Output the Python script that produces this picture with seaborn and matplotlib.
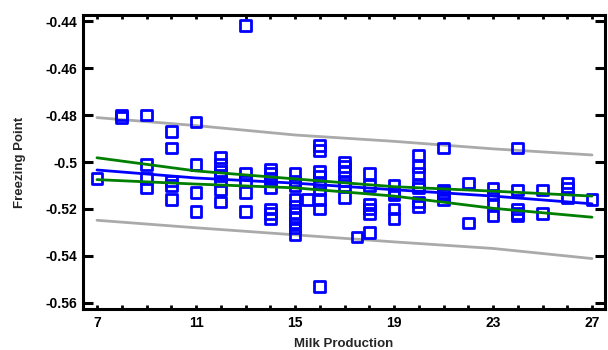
import matplotlib
matplotlib.use("Agg")
import matplotlib.pyplot as plt
import seaborn as sns
import pandas as pd

# ---- data ----
milk = ([7] + [8] * 2 + [9] * 4 + [10] * 5 + [11] * 4 + [12] * 7 + [13] * 5 + [14] * 7
        + [15] * 10 + [15.5] + [16] * 9 + [17] * 6 + [17.5] + [18] * 6 + [19] * 5
        + [20] * 7 + [21] * 5 + [22] * 2 + [23] * 4 + [24] * 5 + [25] * 2 + [26] * 3 + [27])
freezing = [
    -0.507,
    -0.480, -0.481,
    -0.480, -0.501, -0.507, -0.511,
    -0.487, -0.494, -0.508, -0.510, -0.516,
    -0.483, -0.501, -0.513, -0.521,
    -0.498, -0.501, -0.504, -0.506, -0.508, -0.512, -0.517,
    -0.442, -0.505, -0.508, -0.513, -0.521,
    -0.503, -0.505, -0.507, -0.511, -0.520, -0.522, -0.524,
    -0.505, -0.508, -0.510, -0.516, -0.519, -0.522, -0.524, -0.526, -0.528, -0.531,
    -0.516,
    -0.493, -0.495, -0.504, -0.506, -0.509, -0.512, -0.516, -0.520, -0.553,
    -0.500, -0.502, -0.504, -0.508, -0.510, -0.515,
    -0.532,
    -0.505, -0.510, -0.518, -0.520, -0.522, -0.530,
    -0.510, -0.513, -0.514, -0.520, -0.524,
    -0.497, -0.502, -0.505, -0.510, -0.511, -0.517, -0.519,
    -0.494, -0.512, -0.513, -0.514, -0.516,
    -0.509, -0.526,
    -0.511, -0.514, -0.518, -0.523,
    -0.494, -0.512, -0.520, -0.522, -0.523,
    -0.512, -0.522,
    -0.509, -0.511, -0.515,
    -0.516,
]

line_x = [7, 11, 15, 19, 23, 27]
fitted = [-0.5034, -0.5068, -0.5090, -0.5118, -0.5145, -0.5178]
conf_upper = [-0.4982, -0.5038, -0.5072, -0.5105, -0.5124, -0.5145]
conf_lower = [-0.5075, -0.5094, -0.5110, -0.5145, -0.5197, -0.5235]
pred_upper = [-0.4811, -0.4845, -0.4885, -0.4912, -0.4944, -0.4970]
pred_lower = [-0.5248, -0.5280, -0.5310, -0.5340, -0.5368, -0.5411]

x_ticks = list(range(7, 28))
x_labels = ["7", "11", "15", "19", "23", "27"]
y_ticks = [-0.44, -0.46, -0.48, -0.50, -0.52, -0.54, -0.56]
y_labels = ["-0.44", "-0.46", "-0.48", "-0.5", "-0.52", "-0.54", "-0.56"]

# ---- plot ----
sns.set_style("white")
plt.rcParams["font.family"] = ["Liberation Sans", "DejaVu Sans"]

fig = plt.figure(figsize=(6.08, 3.5), dpi=100)
ax = fig.add_axes([83 / 608, 1 - 309 / 350, (605 - 83) / 608, (309 - 15) / 350])

pts = pd.DataFrame({"milk": milk, "freezing": freezing})
lines = pd.DataFrame({"x": line_x, "fit": fitted, "cu": conf_upper, "cl": conf_lower,
                      "pu": pred_upper, "pl": pred_lower})

for col in ["pu", "pl"]:
    sns.lineplot(data=lines, x="x", y=col, ax=ax, color="#AAAAAA", lw=2.0,
                 estimator=None, sort=False, zorder=1)
sns.scatterplot(data=pts, x="milk", y="freezing", ax=ax, marker="s", s=58,
                facecolors="none", edgecolor="#0000FF", linewidth=2.0, zorder=2)
sns.lineplot(data=lines, x="x", y="fit", ax=ax, color="#0000FF", lw=2.0,
             estimator=None, sort=False, zorder=3)
for col in ["cu", "cl"]:
    sns.lineplot(data=lines, x="x", y=col, ax=ax, color="#007F00", lw=2.0,
                 estimator=None, sort=False, zorder=4)

ax.set_xlim(7 - 14 / 24.75, 27 + 13 / 24.75)
ax.set_ylim(-0.56 - 6 / 2335, -0.44 + 6 / 2335)

ax.set_xticks(x_ticks)
ax.set_xticklabels([str(t) if str(t) in x_labels else "" for t in x_ticks],
                   fontsize=10, fontweight="bold")
ax.set_yticks(y_ticks)
ax.set_yticklabels(y_labels, fontsize=10, fontweight="bold")

ax.tick_params(axis="x", direction="in", length=3, width=2, top=True, bottom=True,
               pad=5, colors="black")
ax.tick_params(axis="y", direction="in", length=7, width=2.2, left=True, right=True,
               pad=4, colors="black")

for side in ["left", "right", "top", "bottom"]:
    ax.spines[side].set_visible(True)
    ax.spines[side].set_color("black")
    ax.spines[side].set_linewidth(2.2)

ax.set_xlabel("Milk Production", fontsize=9.5, fontweight="bold", labelpad=6)
ax.set_ylabel("Freezing Point", fontsize=9.5, fontweight="bold", labelpad=14)

fig.savefig("out.png", dpi=100)
